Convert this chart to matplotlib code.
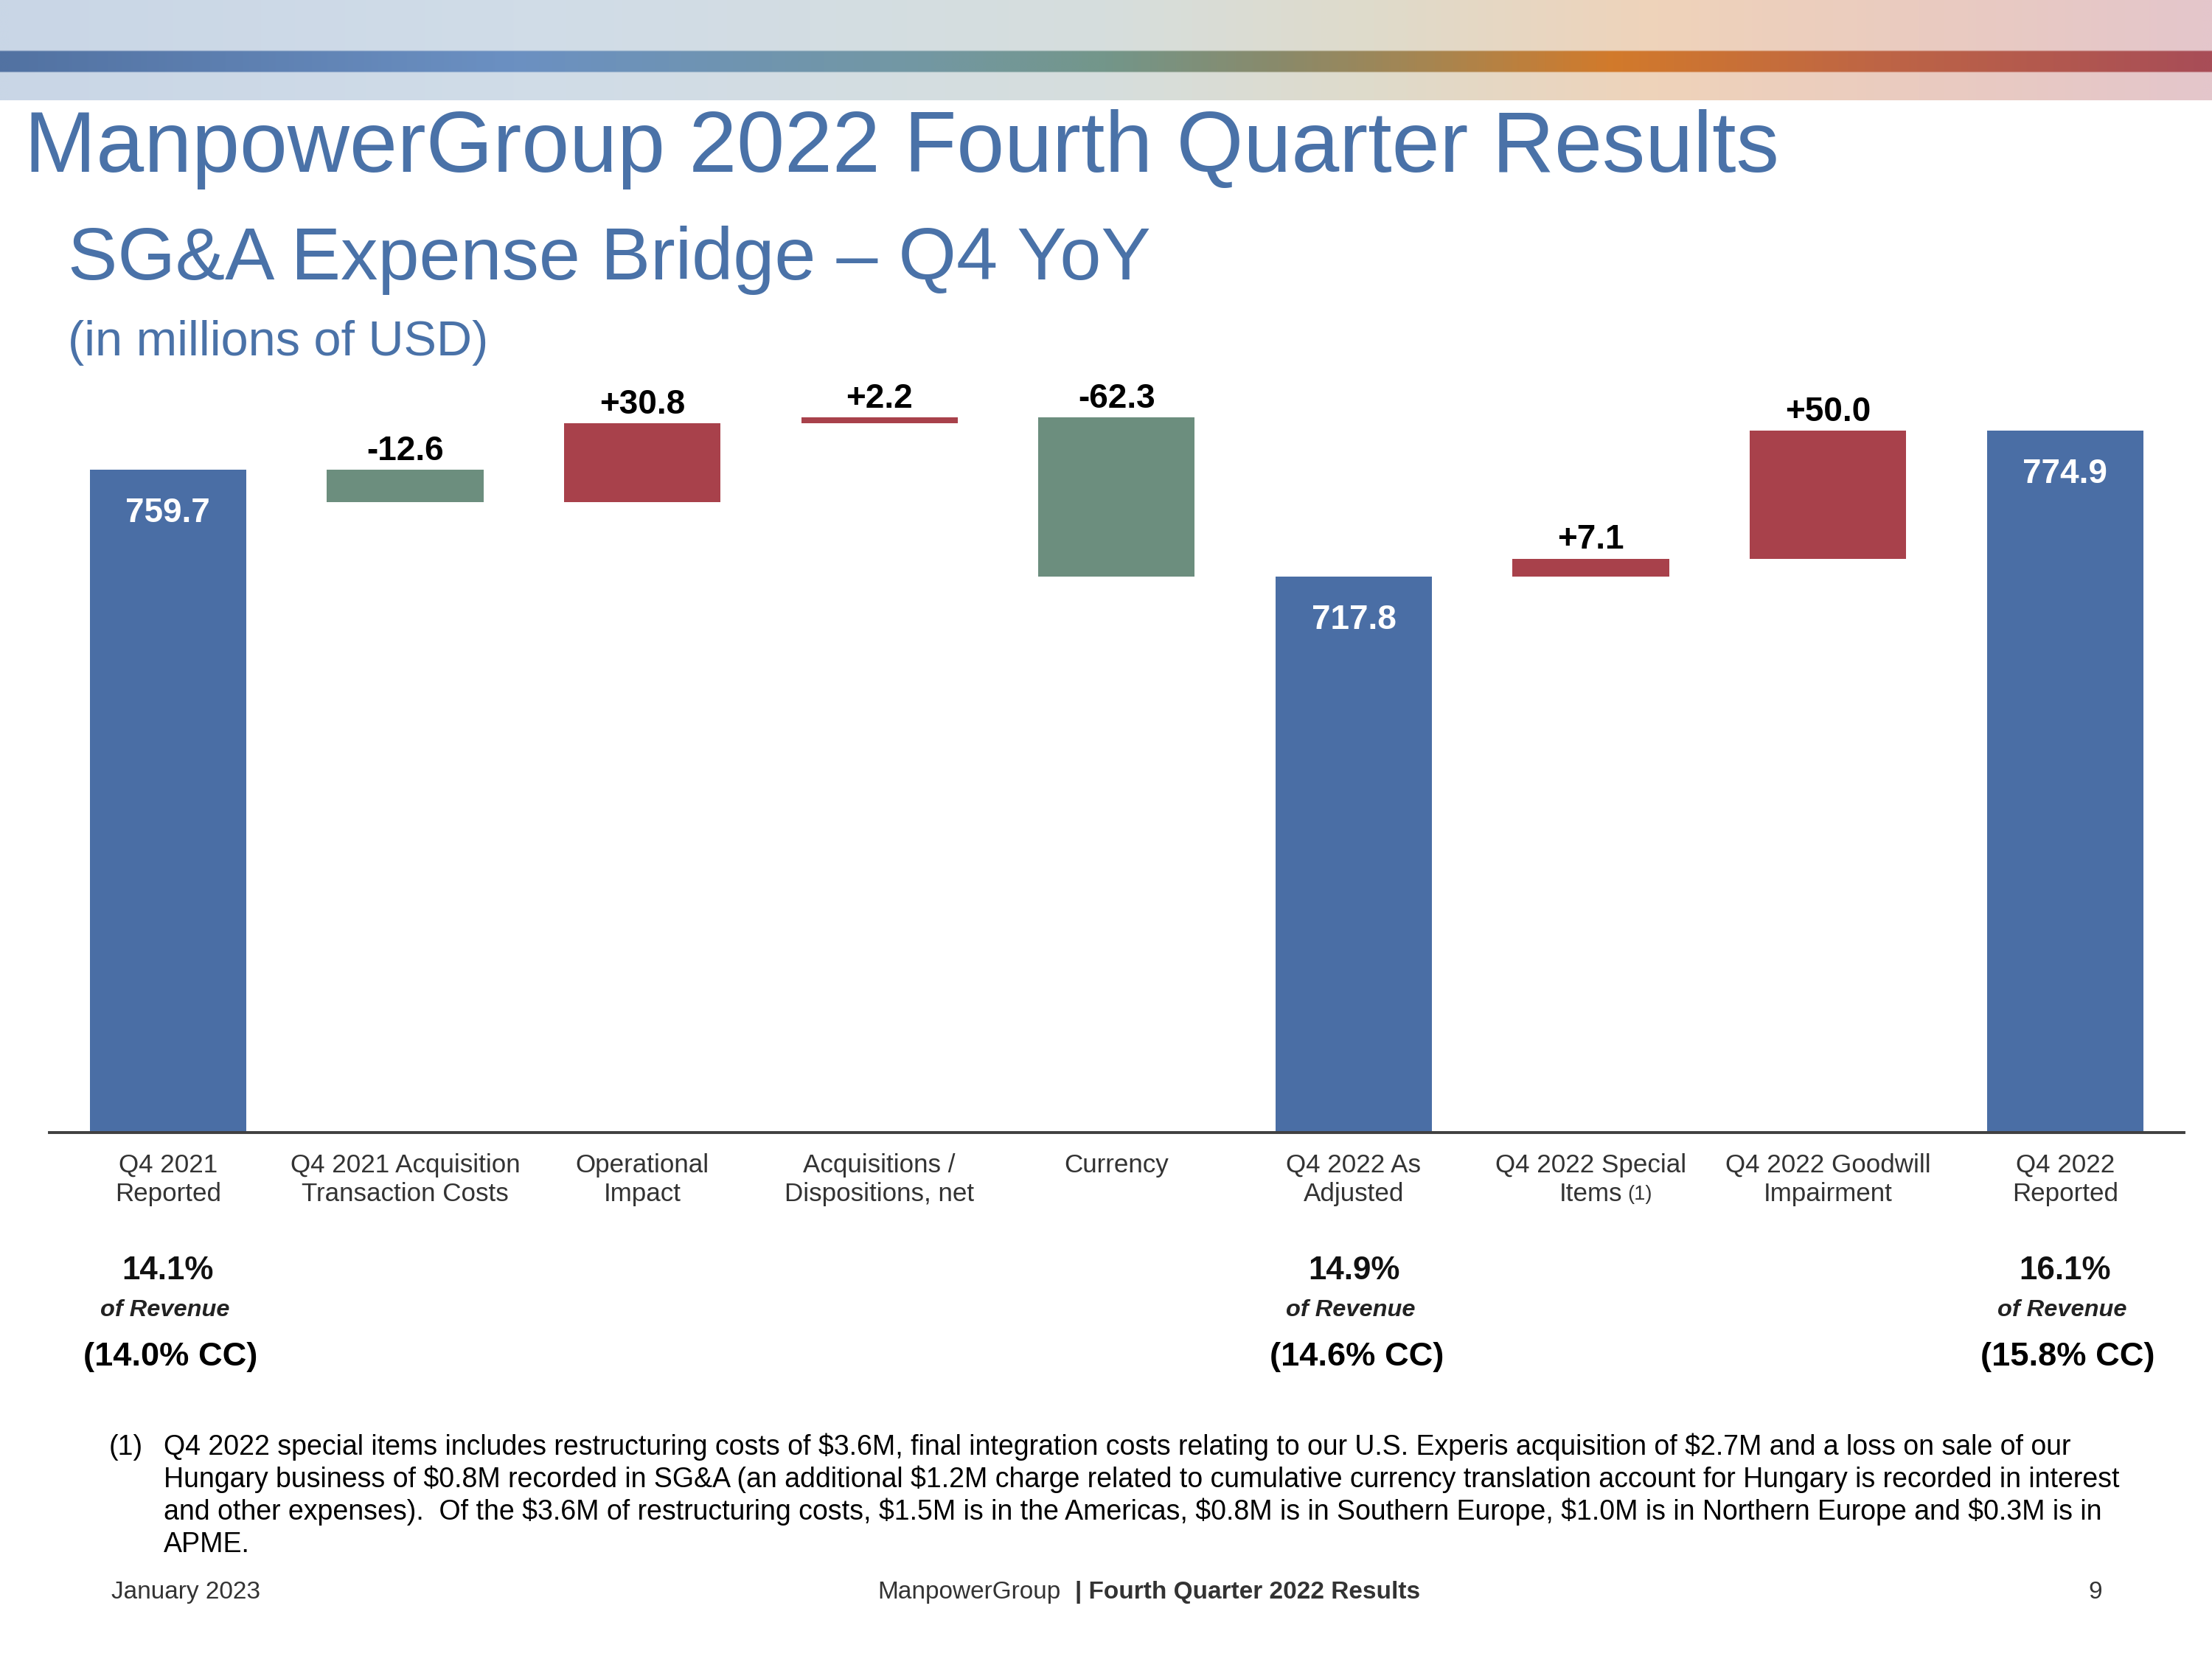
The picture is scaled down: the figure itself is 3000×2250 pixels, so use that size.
import numpy as np
import matplotlib
matplotlib.use("Agg")
import matplotlib.pyplot as plt
from matplotlib.colors import LinearSegmentedColormap
import matplotlib.transforms as mtransforms

plt.rcParams['font.family'] = ['Liberation Sans', 'DejaVu Sans']

# ---------------- data ----------------
categories = ["Q4 2021\nReported", "Q4 2021 Acquisition\nTransaction Costs", "Operational\nImpact",
              "Acquisitions /\nDispositions, net", "Currency", "Q4 2022 As\nAdjusted",
              "Q4 2022 Special\nItems", "Q4 2022 Goodwill\nImpairment", "Q4 2022\nReported"]
amounts = [759.7, -12.6, 30.8, 2.2, -62.3, 717.8, 7.1, 50.0, 774.9]
is_total = [True, False, False, False, False, True, False, False, True]
footnote_ref_index = 6
pct_labels = {0: "14.1%", 5: "14.9%", 8: "16.1%"}
cc_labels = {0: "(14.0% CC)", 5: "(14.6% CC)", 8: "(15.8% CC)"}
footnote_lines = [
    "Q4 2022 special items includes restructuring costs of $3.6M, final integration costs relating to our U.S. Experis acquisition of $2.7M and a loss on sale of our",
    "Hungary business of $0.8M recorded in SG&A (an additional $1.2M charge related to cumulative currency translation account for Hungary is recorded in interest",
    "and other expenses).  Of the $3.6M of restructuring costs, $1.5M is in the Americas, $0.8M is in Southern Europe, $1.0M is in Northern Europe and $0.3M is in",
    "APME.",
]

BLUE = "#4A6EA5"
GREEN = "#6C8E7E"
RED = "#A8414B"
TITLE_C = "#4A72A8"
TXT = "#333333"

W, H = 1568.0, 1176.0
def fx(x): return x / W
def fy(y): return 1 - y / H
PT = 0.689  # points per display px

fig = plt.figure(figsize=(15, 11.25), dpi=200)

# ---------------- banner ----------------
bax = fig.add_axes([0, fy(71), 1, 71 / H])
bax.set_axis_off()
light = LinearSegmentedColormap.from_list("light", [
    (0.0, "#C9D6E6"), (0.23, "#D0DCE8"), (0.5, "#D6DEDD"), (0.62, "#DFDBCB"),
    (0.75, "#EFD3BA"), (0.87, "#EACBC0"), (1.0, "#E4C6CB")])
dark = LinearSegmentedColormap.from_list("dark", [
    (0.0, "#5272A2"), (0.23, "#6B90C2"), (0.42, "#7398A2"), (0.5, "#73968A"),
    (0.58, "#8A8A6A"), (0.65, "#A8854F"), (0.73, "#D27A2B"), (0.85, "#BE6545"),
    (1.0, "#A84D57")])
gx = np.linspace(0, 1, 600)
img = np.ones((71, 600, 4))
img[:, :, :] = light(gx)[None, :, :]
img[36:51, :, :] = dark(gx)[None, :, :]
bax.imshow(img, aspect='auto', extent=[0, 1, 0, 1], interpolation='bilinear')

# ---------------- titles ----------------
fig.text(fx(17), fy(122), "ManpowerGroup 2022 Fourth Quarter Results", fontsize=42,
         color=TITLE_C, va='baseline', ha='left')
fig.text(fx(48), fy(198), "SG&A Expense Bridge \u2013 Q4 YoY", fontsize=36.3,
         color=TITLE_C, va='baseline', ha='left')
fig.text(fx(48), fy(252), "(in millions of USD)", fontsize=24,
         color=TITLE_C, va='baseline', ha='left')

# ---------------- chart ----------------
ax = fig.add_axes([fx(35), fy(803), (1548 - 35) / W, (803 - 260) / H])
ax.set_xlim(-0.5, len(categories) - 0.5)
ax.set_ylim(500, 800)

running = 0.0
for i, (amt, tot) in enumerate(zip(amounts, is_total)):
    if tot:
        bottom, height, color = 500, amt - 500, BLUE
        running = amt
    else:
        start = running
        running = start + amt
        bottom, height = min(start, running), abs(amt)
        color = RED if amt > 0 else GREEN
    ax.bar(i, height, bottom=bottom, width=0.66, color=color, linewidth=0)
    top = bottom + height
    if tot:
        ax.annotate(f"{amt:.1f}", xy=(i, top), xytext=(0, -37 * PT), textcoords='offset points',
                    ha='center', va='baseline', color='white', fontsize=16.5, fontweight='bold')
    else:
        ax.annotate(f"{amt:+.1f}", xy=(i, top), xytext=(0, 7 * PT), textcoords='offset points',
                    ha='center', va='baseline', color='black', fontsize=16.5, fontweight='bold')

for s in ['top', 'right', 'left']:
    ax.spines[s].set_visible(False)
ax.spines['bottom'].set_color('#404040')
ax.spines['bottom'].set_linewidth(1.4)
ax.set_yticks([])
ax.set_xticks(range(len(categories)))
ax.set_xticklabels([])
ax.tick_params(axis='x', length=0)
ax.patch.set_alpha(0)

trans = mtransforms.blended_transform_factory(ax.transData, ax.transAxes)

# category labels, one line at a time
line_baselines = [28, 48.5]
for i, cat in enumerate(categories):
    for k, part in enumerate(cat.split("\n")):
        ax.annotate(part, xy=(i, 0), xycoords=trans, xytext=(0, -line_baselines[k] * PT),
                    textcoords='offset points', ha='center', va='baseline',
                    fontsize=12.6, color=TXT)
ax.annotate("(1)", xy=(footnote_ref_index, 0), xycoords=trans, xytext=(26 * PT, -47.5 * PT),
            textcoords='offset points', ha='left', va='baseline', fontsize=9.8, color=TXT)

for i, t in pct_labels.items():
    ax.annotate(t, xy=(i, 0), xycoords=trans, xytext=(0, -(907 - 803) * PT),
                textcoords='offset points', ha='center', va='baseline',
                fontsize=15.8, fontweight='bold', color='#111111')
    ax.annotate("of Revenue", xy=(i, 0), xycoords=trans, xytext=(-2 * PT, -(933 - 803) * PT),
                textcoords='offset points', ha='center', va='baseline',
                fontsize=11.7, fontweight='bold', fontstyle='italic', color='#222222')
for i, t in cc_labels.items():
    ax.annotate(t, xy=(i, 0), xycoords=trans, xytext=(2 * PT, -(968 - 803) * PT),
                textcoords='offset points', ha='center', va='baseline',
                fontsize=16.3, fontweight='bold', color='black')

# ---------------- footnote ----------------
fig.text(fx(77), fy(1031), "(1)", fontsize=13.5, color='black', va='baseline', ha='left',
         parse_math=False)
for k, line in enumerate(footnote_lines):
    fig.text(fx(116), fy(1031 + 23 * k), line, fontsize=13.5, color='black',
             va='baseline', ha='left', parse_math=False)

# ---------------- footer ----------------
fig.text(fx(79), fy(1133), "January 2023", fontsize=12, color=TXT, va='baseline', ha='left')
fig.text(fx(622), fy(1133), "ManpowerGroup", fontsize=12, color=TXT, va='baseline', ha='left')
fig.text(fx(762), fy(1133), "| Fourth Quarter 2022 Results", fontsize=12, color=TXT,
         va='baseline', ha='left', fontweight='bold')
fig.text(fx(1490), fy(1133), "9", fontsize=12, color=TXT, va='baseline', ha='right')

fig.savefig("out.png", dpi=200)
